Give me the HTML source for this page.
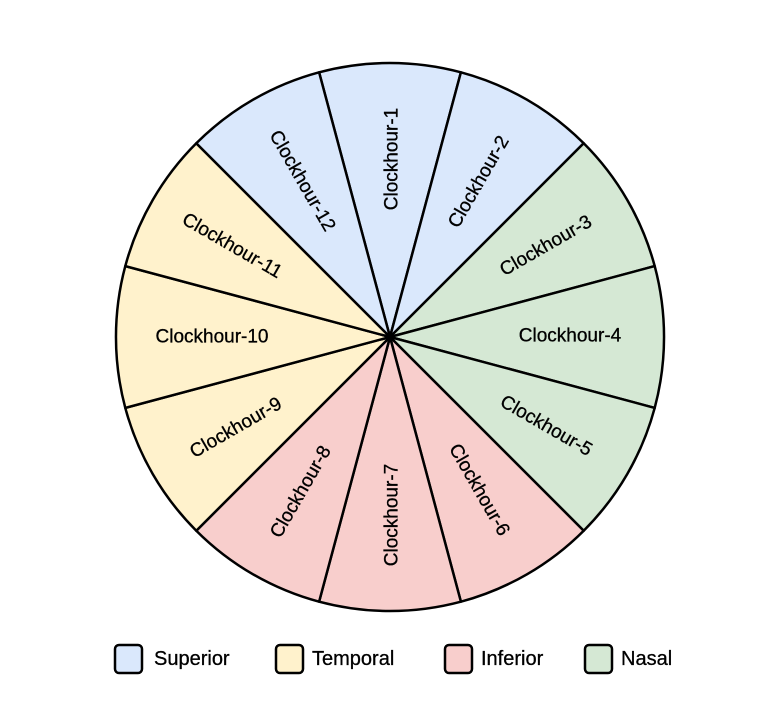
<!DOCTYPE html>
<html><head><meta charset="utf-8"><style>
body{margin:0;background:#fff;}
svg text{font-family:"Liberation Sans",sans-serif;}
</style></head><body>
<svg width="782" height="703" viewBox="0 0 782 703" xmlns="http://www.w3.org/2000/svg">
<g stroke="#000" stroke-width="2.5" stroke-linejoin="round">
<path d="M390 337 L319.1 72.3 A274 274 0 0 1 460.9 72.3 Z" fill="#dae8fc"/>
<path d="M390 337 L460.9 72.3 A274 274 0 0 1 583.7 143.3 Z" fill="#dae8fc"/>
<path d="M390 337 L583.7 143.3 A274 274 0 0 1 654.7 266.1 Z" fill="#d5e8d4"/>
<path d="M390 337 L654.7 266.1 A274 274 0 0 1 654.7 407.9 Z" fill="#d5e8d4"/>
<path d="M390 337 L654.7 407.9 A274 274 0 0 1 583.7 530.7 Z" fill="#d5e8d4"/>
<path d="M390 337 L583.7 530.7 A274 274 0 0 1 460.9 601.7 Z" fill="#f8cecc"/>
<path d="M390 337 L460.9 601.7 A274 274 0 0 1 319.1 601.7 Z" fill="#f8cecc"/>
<path d="M390 337 L319.1 601.7 A274 274 0 0 1 196.3 530.7 Z" fill="#f8cecc"/>
<path d="M390 337 L196.3 530.7 A274 274 0 0 1 125.3 407.9 Z" fill="#fff2cc"/>
<path d="M390 337 L125.3 407.9 A274 274 0 0 1 125.3 266.1 Z" fill="#fff2cc"/>
<path d="M390 337 L125.3 266.1 A274 274 0 0 1 196.3 143.3 Z" fill="#fff2cc"/>
<path d="M390 337 L196.3 143.3 A274 274 0 0 1 319.1 72.3 Z" fill="#dae8fc"/>
</g>
<g font-size="19" text-anchor="middle" dominant-baseline="central" fill="#000" stroke="#000" stroke-width="0.3">
<text transform="translate(392,159) rotate(-90)">Clockhour-1</text>
<text transform="translate(479,182) rotate(-60)">Clockhour-2</text>
<text transform="translate(546,246) rotate(-30)">Clockhour-3</text>
<text transform="translate(570,336)">Clockhour-4</text>
<text transform="translate(546,426) rotate(30)">Clockhour-5</text>
<text transform="translate(479,490) rotate(60)">Clockhour-6</text>
<text transform="translate(392,515) rotate(-90)">Clockhour-7</text>
<text transform="translate(301,492) rotate(-60)">Clockhour-8</text>
<text transform="translate(236,428) rotate(-30)">Clockhour-9</text>
<text transform="translate(212,337)">Clockhour-10</text>
<text transform="translate(232,246) rotate(30)">Clockhour-11</text>
<text transform="translate(302,181) rotate(60)">Clockhour-12</text>
</g>
<g stroke="#000" stroke-width="2.5">
<rect x="115" y="645" width="27" height="28" rx="4" fill="#dae8fc"/>
<rect x="276" y="645" width="27" height="28" rx="4" fill="#fff2cc"/>
<rect x="445" y="645" width="27" height="28" rx="4" fill="#f8cecc"/>
<rect x="585" y="645" width="27" height="28" rx="4" fill="#d5e8d4"/>
</g>
<g font-size="20" dominant-baseline="central" fill="#000" stroke="#000" stroke-width="0.3">
<text x="154" y="659">Superior</text>
<text x="312" y="659">Temporal</text>
<text x="481" y="659">Inferior</text>
<text x="621" y="659">Nasal</text>
</g>
</svg>
</body></html>
